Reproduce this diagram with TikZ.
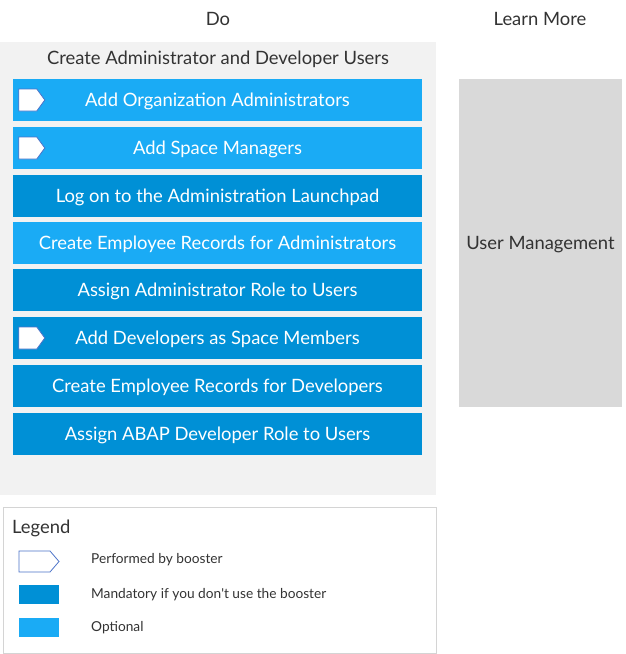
\documentclass[tikz,border=0pt]{standalone}
\usepackage{fontspec}
\setmainfont{Lato}
\definecolor{panelgray}{HTML}{F2F2F2}
\definecolor{lmgray}{HTML}{D9D9D9}
\definecolor{optblue}{HTML}{1AABF5}
\definecolor{mandblue}{HTML}{0090D6}
\definecolor{tagblue}{HTML}{4A72C8}
\definecolor{txtgray}{HTML}{333333}
\definecolor{legline}{HTML}{D4D4D4}
\tikzset{
  lowtext/.style={text height=15pt, text depth=1.5pt},
  stepbox/.style={minimum width=409pt, minimum height=42pt, inner sep=0pt, text=white, lowtext, font=\fontsize{18.4}{20}\selectfont},
  optbox/.style={stepbox, fill=optblue},
  mandbox/.style={stepbox, fill=mandblue},
  hdr/.style={text=txtgray, font=\fontsize{18.4}{20}\selectfont, inner sep=0pt},
  legtext/.style={text=txtgray, font=\fontsize{13.7}{15}\selectfont, anchor=west, inner sep=0pt},
  pics/tag/.style args={#1/#2/#3}{code={
    \draw[tagblue, fill=white, line width=0.8pt] (0,-#2) -- (#3,-#2) -- (#1,0) -- (#3,#2) -- (0,#2) -- cycle;
  }}
}
\begin{document}
\begin{tikzpicture}[x=1pt,y=-1pt]
\useasboundingbox (0,0) rectangle (626,654);
\fill[white] (0,0) rectangle (626,654);
% headers
\node[hdr] (do) at (218,19) {Do};
\node[hdr] (learn) at (540,19) {Learn More};
% panel
\fill[panelgray] (0,42) rectangle (436,495);
\node[hdr] (title) at (218,59) {Create Administrator and Developer Users};
% steps
\node[optbox]  (s1) at (217.5,100) {Add Organization Administrators};
\node[optbox]  (s2) at (217.5,148) {Add Space Managers};
\node[mandbox] (s3) at (217.5,196) {Log on to the Administration Launchpad};
\node[optbox]  (s4) at (217.5,243) {Create Employee Records for Administrators};
\node[mandbox] (s5) at (217.5,290) {Assign Administrator Role to Users};
\node[mandbox] (s6) at (217.5,338) {Add Developers as Space Members};
\node[mandbox] (s7) at (217.5,386) {Create Employee Records for Developers};
\node[mandbox] (s8) at (217.5,434) {Assign ABAP Developer Role to Users};
\pic at ([xshift=6pt]s1.west) {tag={26/11/18}};
\pic at ([xshift=6pt]s2.west) {tag={26/11/18}};
\pic at ([xshift=6pt]s6.west) {tag={26/11/18}};
% learn more
\node[fill=lmgray, minimum width=163pt, minimum height=328pt, inner sep=0pt, text=txtgray, lowtext, font=\fontsize{18.4}{20}\selectfont] (um) at (540.5,243) {User Management};
% legend
\draw[legline, line width=1pt] (3,507.5) rectangle (436,653);
\node[text=txtgray, font=\fontsize{18.4}{20}\selectfont, anchor=west, inner sep=0pt] (leg) at (12,528) {Legend};
\pic at (19,561.5) {tag={40/10.5/31}};
\node[legtext] (l1) at (91,560) {Performed by booster};
\node[fill=mandblue, minimum width=40pt, minimum height=19pt, inner sep=0pt] (lm) at (39,594.5) {};
\node[legtext] (l2) at (91,595) {Mandatory if you don\textquotesingle t use the booster};
\node[fill=optblue, minimum width=40pt, minimum height=19pt, inner sep=0pt] (lo) at (39,627.5) {};
\node[legtext] (l3) at (91,628) {Optional};
\end{tikzpicture}
\end{document}
